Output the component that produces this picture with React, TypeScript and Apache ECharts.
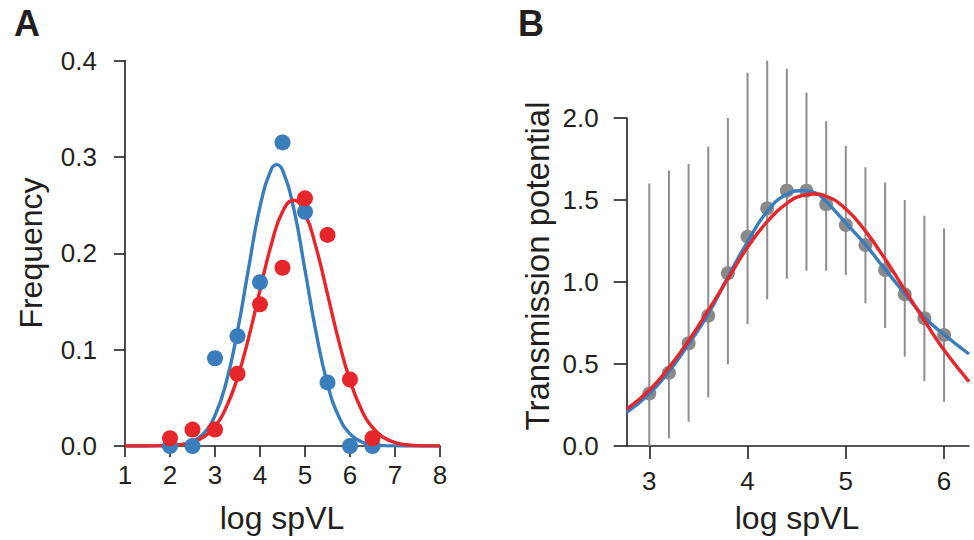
import React, { useEffect, useRef } from "react";
import * as echarts from "echarts";

const FONT = '"Liberation Sans", Arial, Helvetica, sans-serif';
const INK = "#231f20";
const BLUE = "#3a7dbb";
const RED = "#e6262a";
const GRAY_PT = "#8a8a8a";
const GRAY_BAR = "#8e8e8e";

// ---------- Panel A: frequency of log spVL ----------
const binsA = [2, 2.5, 3, 3.5, 4, 4.5, 5, 5.5, 6, 6.5];
const freqBlueA = [0, 0, 0.091, 0.114, 0.17, 0.315, 0.243, 0.066, 0, 0];
const freqRedA = [0.008, 0.017, 0.017, 0.075, 0.147, 0.185, 0.257, 0.219, 0.069, 0.008];

const curveBlueAX = [1, 1.25, 1.5, 1.75, 2, 2.25, 2.5, 2.75, 3, 3.25, 3.5, 3.75, 4, 4.25, 4.375, 4.5, 4.75, 5, 5.25, 5.5, 5.75, 6, 6.25, 6.5, 6.75, 7, 7.25, 7.5, 7.75, 8];
const curveBlueAY = [0, 0, 0, 0.0001, 0.0004, 0.0014, 0.0047, 0.0131, 0.0317, 0.0662, 0.1192, 0.1853, 0.2483, 0.287, 0.292, 0.2862, 0.2462, 0.1826, 0.1168, 0.0644, 0.0307, 0.0126, 0.0045, 0.0014, 0.0004, 0.0001, 0, 0, 0, 0];

const curveRedAX = [1, 1.25, 1.5, 1.75, 2, 2.25, 2.5, 2.75, 3, 3.25, 3.5, 3.75, 4, 4.25, 4.5, 4.75, 5, 5.25, 5.5, 5.75, 6, 6.25, 6.5, 6.75, 7, 7.25, 7.5, 7.75, 8];
const curveRedAY = [0, 0, 0, 0.0002, 0.0005, 0.0015, 0.0039, 0.0094, 0.0205, 0.0402, 0.0709, 0.1128, 0.1616, 0.2088, 0.243, 0.255, 0.241, 0.2053, 0.1576, 0.1091, 0.068, 0.0382, 0.0193, 0.0088, 0.0036, 0.0013, 0.0004, 0.0001, 0];

const ticksAX = [1, 2, 3, 4, 5, 6, 7, 8];

// ---------- Panel B: transmission potential ----------
const binsB = [3.0, 3.2, 3.4, 3.6, 3.8, 4.0, 4.2, 4.4, 4.6, 4.8, 5.0, 5.2, 5.4, 5.6, 5.8, 6.0];
const tpMeanB = [0.32, 0.447, 0.626, 0.794, 1.053, 1.276, 1.449, 1.557, 1.557, 1.474, 1.348, 1.226, 1.073, 0.925, 0.779, 0.677];
const tpLowB = [0.0, 0.047, 0.148, 0.297, 0.498, 0.744, 0.894, 1.02, 1.069, 1.069, 1.043, 0.87, 0.72, 0.545, 0.396, 0.27];
const tpHighB = [1.6, 1.68, 1.72, 1.825, 2.0, 2.276, 2.35, 2.3, 2.155, 1.98, 1.83, 1.7, 1.606, 1.5, 1.404, 1.327];

const curveBlueBX = [2.77, 3.0, 3.2, 3.4, 3.6, 3.8, 4.0, 4.2, 4.4, 4.55, 4.7, 4.8, 5.0, 5.2, 5.4, 5.6, 5.8, 6.0, 6.254];
const curveBlueBY = [0.205, 0.318, 0.455, 0.622, 0.805, 1.03, 1.245, 1.43, 1.535, 1.556, 1.54, 1.49, 1.36, 1.228, 1.077, 0.93, 0.785, 0.68, 0.561];

const curveRedBX = [2.77, 3.0, 3.2, 3.4, 3.6, 3.8, 4.0, 4.2, 4.4, 4.6, 4.67, 4.8, 5.0, 5.2, 5.4, 5.6, 5.8, 6.0, 6.254];
const curveRedBY = [0.225, 0.34, 0.478, 0.642, 0.827, 1.02, 1.212, 1.368, 1.48, 1.533, 1.537, 1.523, 1.445, 1.31, 1.14, 0.952, 0.765, 0.585, 0.393];

const ticksBX = [3, 4, 5, 6];

const zip = (xs: number[], ys: number[]) => xs.map((x, i) => [x, ys[i]]);

export default function App() {
  const ref = useRef<HTMLDivElement>(null);

  useEffect(() => {
    if (!ref.current) return;
    const chart = echarts.init(ref.current, undefined, { renderer: "svg" });

    const axisLine = { show: true, onZero: false, lineStyle: { color: INK, width: 1.6 } };
    const tickStyle = { color: INK, width: 1.6 };
    const labelStyle = { color: INK, fontSize: 26, fontFamily: FONT };

    const curve = (xi: number, xs: number[], ys: number[], color: string, z: number) => ({
      type: "line",
      xAxisIndex: xi,
      yAxisIndex: xi,
      data: zip(xs, ys),
      smooth: 0.5,
      showSymbol: false,
      symbol: "none",
      lineStyle: { color, width: 3.4 },
      z,
      silent: true,
    });

    const option: any = {
      animation: false,
      textStyle: { fontFamily: FONT, color: INK },
      grid: [
        { left: 125, top: 60.5, width: 315, height: 385.5, containLabel: false, outerBoundsMode: "none" },
        { left: 626.7, top: 118, width: 342.3, height: 328, containLabel: false, outerBoundsMode: "none" },
      ],
      xAxis: [
        {
          type: "value",
          gridIndex: 0,
          min: 1,
          max: 8,
          interval: 1,
          axisLine,
          axisTick: { show: true, length: 11, lineStyle: tickStyle, customValues: ticksAX },
          axisLabel: { ...labelStyle, margin: 16, customValues: ticksAX },
          splitLine: { show: false },
        },
        {
          type: "value",
          gridIndex: 1,
          min: 2.77,
          max: 6.254,
          axisLine,
          axisTick: { show: true, length: 13, lineStyle: tickStyle, customValues: ticksBX },
          axisLabel: { ...labelStyle, margin: 22, customValues: ticksBX },
          splitLine: { show: false },
        },
      ],
      yAxis: [
        {
          type: "value",
          gridIndex: 0,
          min: 0,
          max: 0.4,
          interval: 0.1,
          axisLine,
          axisTick: { show: true, length: 11, lineStyle: tickStyle },
          axisLabel: { ...labelStyle, margin: 28, formatter: (v: number) => v.toFixed(1) },
          splitLine: { show: false },
        },
        {
          type: "value",
          gridIndex: 1,
          min: 0,
          max: 2,
          interval: 0.5,
          axisLine,
          axisTick: { show: true, length: 13, lineStyle: tickStyle },
          axisLabel: { ...labelStyle, margin: 28, formatter: (v: number) => v.toFixed(1) },
          splitLine: { show: false },
        },
      ],
      series: [
        // Panel A
        curve(0, curveBlueAX, curveBlueAY, BLUE, 2),
        curve(0, curveRedAX, curveRedAY, RED, 3),
        {
          type: "scatter",
          xAxisIndex: 0,
          yAxisIndex: 0,
          data: zip(binsA, freqBlueA),
          symbolSize: 16,
          itemStyle: { color: BLUE, opacity: 1 },
          clip: false,
          z: 4,
          silent: true,
        },
        {
          type: "scatter",
          xAxisIndex: 0,
          yAxisIndex: 0,
          data: zip(binsA, freqRedA),
          symbolSize: 16,
          itemStyle: { color: RED, opacity: 1 },
          clip: false,
          z: 5,
          silent: true,
        },
        // Panel B
        {
          type: "custom",
          xAxisIndex: 1,
          yAxisIndex: 1,
          data: binsB.map((x, i) => [x, tpLowB[i], tpHighB[i]]),
          encode: { x: 0, y: [1, 2] },
          clip: false,
          silent: true,
          z: 1,
          renderItem: (_params: any, api: any) => {
            const p1 = api.coord([api.value(0), api.value(1)]);
            const p2 = api.coord([api.value(0), api.value(2)]);
            return {
              type: "line",
              shape: { x1: p1[0], y1: p1[1], x2: p2[0], y2: p2[1] },
              style: { stroke: GRAY_BAR, lineWidth: 2 },
            };
          },
        },
        {
          type: "scatter",
          xAxisIndex: 1,
          yAxisIndex: 1,
          data: zip(binsB, tpMeanB),
          symbolSize: 14,
          itemStyle: { color: GRAY_PT, opacity: 1 },
          clip: false,
          z: 2,
          silent: true,
        },
        curve(1, curveBlueBX, curveBlueBY, BLUE, 3),
        curve(1, curveRedBX, curveRedBY, RED, 4),
      ],
      graphic: [
        {
          type: "text",
          x: 14,
          y: 23,
          style: { text: "A", fontSize: 36, fontWeight: "bold", fontFamily: FONT, fill: INK, align: "left", verticalAlign: "middle" },
        },
        {
          type: "text",
          x: 518,
          y: 23,
          style: { text: "B", fontSize: 36, fontWeight: "bold", fontFamily: FONT, fill: INK, align: "left", verticalAlign: "middle" },
        },
        {
          type: "text",
          x: 282,
          y: 518,
          style: { text: "log spVL", fontSize: 32, fontFamily: FONT, fill: INK, align: "center", verticalAlign: "middle" },
        },
        {
          type: "text",
          x: 797,
          y: 518,
          style: { text: "log spVL", fontSize: 32, fontFamily: FONT, fill: INK, align: "center", verticalAlign: "middle" },
        },
        {
          type: "text",
          x: 31,
          y: 253,
          rotation: Math.PI / 2,
          style: { text: "Frequency", fontSize: 32, fontFamily: FONT, fill: INK, align: "center", verticalAlign: "middle" },
        },
        {
          type: "text",
          x: 537,
          y: 266,
          rotation: Math.PI / 2,
          style: { text: "Transmission potential", fontSize: 33, fontFamily: FONT, fill: INK, align: "center", verticalAlign: "middle" },
        },
      ],
    };

    chart.setOption(option);
    return () => chart.dispose();
  }, []);

  return (
    <div
      ref={ref}
      style={{ position: "absolute", left: 0, top: 0, width: 974, height: 540, background: "#ffffff" }}
    />
  );
}
